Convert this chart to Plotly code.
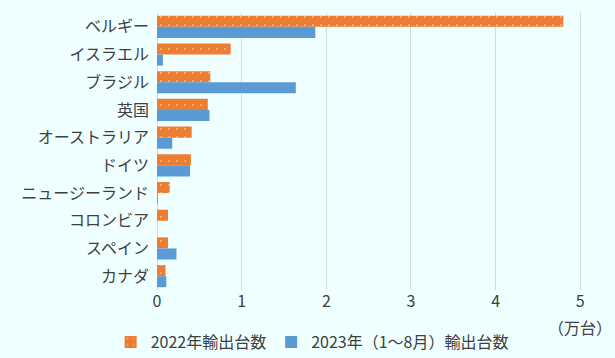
import plotly.graph_objects as go

countries = ["ベルギー", "イスラエル", "ブラジル", "英国", "オーストラリア", "ドイツ",
             "ニュージーランド", "コロンビア", "スペイン", "カナダ"]
exports_2022 = [4.80, 0.87, 0.63, 0.60, 0.41, 0.40, 0.15, 0.13, 0.13, 0.10]
exports_2023 = [1.87, 0.07, 1.64, 0.62, 0.18, 0.39, 0.01, 0.00, 0.23, 0.11]
x_ticks = [0, 1, 2, 3, 4, 5]

FONT = "Noto Sans CJK JP"
TXT = "#404040"
BG = "#EFFFFF"

fig = go.Figure()
fig.add_trace(go.Bar(
    y=countries, x=exports_2022, orientation="h", name="2022年輸出台数",
    marker=dict(color="#ED7D31", line=dict(width=0),
                pattern=dict(shape=".", fgcolor="white", bgcolor="#ED7D31",
                             size=8, solidity=0.04, fillmode="overlay")),
    hoverinfo="skip",
))
fig.add_trace(go.Bar(
    y=countries, x=exports_2023, orientation="h", name="2023年（1～8月）輸出台数",
    marker=dict(color="#5B9BD5", line=dict(width=0)),
    hoverinfo="skip",
))

fig.update_layout(
    width=615, height=358,
    paper_bgcolor=BG, plot_bgcolor=BG,
    margin=dict(l=157, r=33, t=13, b=68, autoexpand=False),
    barmode="group", bargap=0.2, bargroupgap=0,
    hovermode=False, dragmode=False,
    font=dict(family=FONT, size=16, color=TXT),
    showlegend=True,
    legend=dict(orientation="h", x=0.365, xanchor="center", y=-0.188, yanchor="middle",
                font=dict(size=16, color=TXT), traceorder="normal",
                bgcolor="rgba(0,0,0,0)", itemwidth=30),
    xaxis=dict(range=[0, 5.02], tickvals=x_ticks, showgrid=True, gridcolor="#D9D9D9",
               gridwidth=1, zeroline=True, zerolinecolor="#D9D9D9", zerolinewidth=1,
               showline=False, ticks="", tickfont=dict(size=16), automargin=False,
               fixedrange=True),
    yaxis=dict(autorange="reversed", showgrid=False, showline=False, ticks="",
               ticklabelstandoff=7, tickfont=dict(size=16), automargin=False,
               fixedrange=True),
    annotations=[dict(text="（万台）", x=5, xref="x", y=-0.134, yref="paper",
                      xanchor="center", yanchor="middle", showarrow=False,
                      font=dict(size=16, color=TXT))],
)

fig.write_html(
    "out.html",
    config={"displayModeBar": False, "staticPlot": True},
    post_script="document.body.style.margin='0';document.body.style.background='%s';" % BG,
)
